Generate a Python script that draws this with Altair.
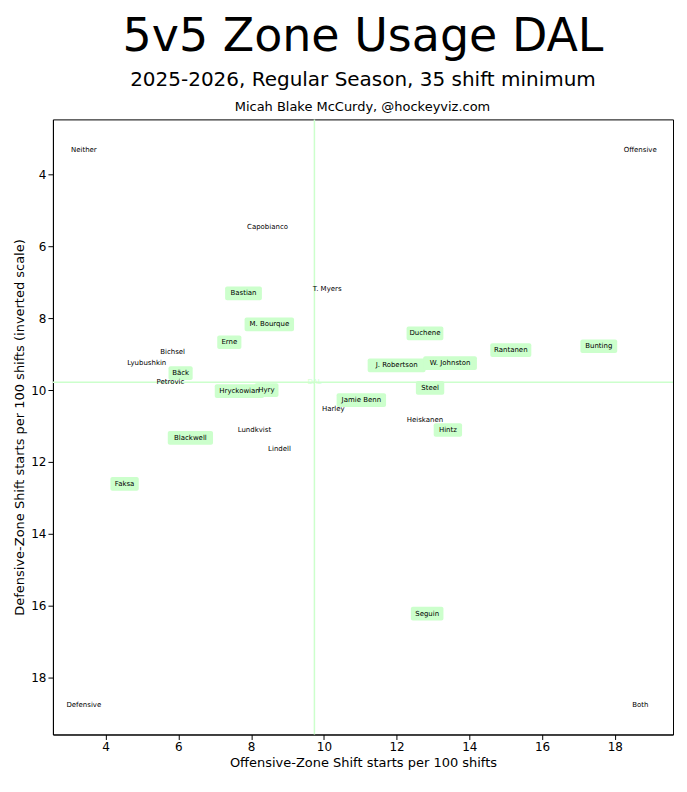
import altair as alt
import pandas as pd

names = ["Capobianco", "Bastian", "M. Bourque", "Erne", "Bichsel", "Lyubushkin", "Bäck",
         "Petrovic", "Hryckowian", "Hyry", "Lundkvist", "Lindell", "Blackwell", "Faksa",
         "Seguin", "T. Myers", "Duchene", "Rantanen", "Bunting", "J. Robertson",
         "W. Johnston", "Steel", "Jamie Benn", "Harley", "Heiskanen", "Hintz"]
oz = [8.45, 7.79, 8.50, 7.40, 5.84, 5.13, 6.06, 5.78, 7.68, 8.42, 8.09, 8.78, 6.33, 4.52,
      12.84, 10.09, 12.78, 15.14, 17.56, 12.0, 13.47, 12.92, 11.03, 10.26, 12.78, 13.41]
dz = [5.47, 7.31, 8.17, 8.67, 8.94, 9.25, 9.53, 9.78, 10.03, 10.0, 11.11, 11.64, 11.33, 12.61,
      16.22, 7.19, 8.42, 8.89, 8.78, 9.31, 9.25, 9.94, 10.28, 10.53, 10.83, 11.11]
highlight = [False, True, True, True, False, False, True, False, True, True, False, False, True, True,
             True, False, True, True, True, True, True, True, True, False, False, True]

team_oz, team_dz = 9.74, 9.78
corner_names = ["Neither", "Offensive", "Defensive", "Both"]
corner_x = [3.4, 18.7, 3.4, 18.7]
corner_y = [3.33, 3.33, 18.75, 18.75]

df = pd.DataFrame({"name": names, "oz": oz, "dz": dz, "hl": highlight})
corners = pd.DataFrame({"name": corner_names, "oz": corner_x, "dz": corner_y})
team = pd.DataFrame({"name": ["DAL"], "oz": [team_oz], "dz": [team_dz]})

xs = alt.Scale(domain=[2.55, 19.6], nice=False, zero=False)
ys = alt.Scale(domain=[19.58, 2.47], nice=False, zero=False)
X = alt.X("oz:Q", scale=xs, title="Offensive-Zone Shift starts per 100 shifts",
          axis=alt.Axis(values=[4, 6, 8, 10, 12, 14, 16, 18], grid=False))
Y = alt.Y("dz:Q", scale=ys, title="Defensive-Zone Shift starts per 100 shifts (inverted scale)",
          axis=alt.Axis(values=[4, 6, 8, 10, 12, 14, 16, 18], grid=False))

vline = alt.Chart(team).mark_rule(color="#ccffcc", strokeWidth=1.5).encode(x=X)
hline = alt.Chart(team).mark_rule(color="#ccffcc", strokeWidth=1.5).encode(y=Y)
team_txt = alt.Chart(team).mark_text(fontSize=7, color="#ccffcc", font="DejaVu Sans").encode(x=X, y=Y, text="name")

boxes = alt.Chart(df).transform_filter(alt.datum.hl).transform_calculate(
    x1="datum.oz - (length(datum.name) * 0.058 + 0.1)",
    x2="datum.oz + (length(datum.name) * 0.058 + 0.1)",
    y1="datum.dz - 0.19", y2="datum.dz + 0.19",
).mark_rect(color="#ccffcc", cornerRadius=2).encode(
    x=alt.X("x1:Q", scale=xs), x2="x2:Q", y=alt.Y("y1:Q", scale=ys), y2="y2:Q")

labels = alt.Chart(df).mark_text(fontSize=7, color="black", font="DejaVu Sans").encode(x=X, y=Y, text="name")
corner_txt = alt.Chart(corners).mark_text(fontSize=7, color="black", font="DejaVu Sans").encode(x=X, y=Y, text="name")
credit = alt.Chart(team).mark_text(fontSize=13, color="black", font="DejaVu Sans", baseline="bottom").encode(
    x=alt.value(310), y=alt.value(-5), text=alt.value("Micah Blake McCurdy, @hockeyviz.com"))

chart = alt.layer(vline, hline, team_txt, boxes, labels, corner_txt, credit).properties(
    width=621, height=616,
    title=alt.TitleParams(
        "5v5 Zone Usage DAL",
        subtitle="2025-2026, Regular Season, 35 shift minimum",
        fontSize=46, fontWeight="normal", subtitleFontSize=20, subtitleColor="black",
        font="DejaVu Sans", subtitleFont="DejaVu Sans", anchor="middle", subtitlePadding=10,
        offset=10,
    ),
).configure_axis(
    labelFont="DejaVu Sans", titleFont="DejaVu Sans", labelFontSize=12, titleFontSize=13,
    titleFontWeight="normal", labelColor="black", titleColor="black", domainColor="black", tickColor="black",
).configure_view(stroke="black")

chart.save("out.html", embed_options={"renderer": "svg", "actions": False})
